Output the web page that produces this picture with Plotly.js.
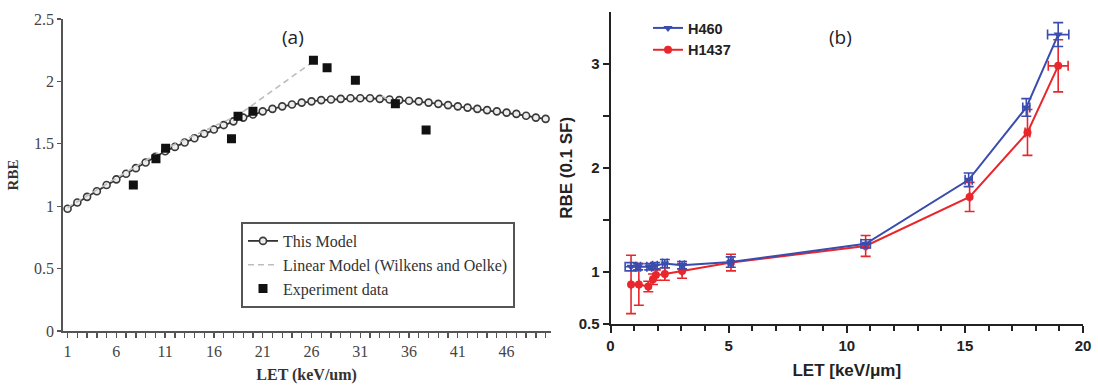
<!DOCTYPE html>
<html>
<head>
<meta charset="utf-8">
<script src="https://cdn.plot.ly/plotly-3.0.1.min.js"></script>
<style>html,body{margin:0;padding:0;background:#fff;}#chart{width:1098px;height:385px;}</style>
</head>
<body>
<div id="chart"></div>
<script>
// ---- Panel (a) data ----
const modelLET = [1,2,3,4,5,6,7,8,9,10,11,12,13,14,15,16,17,18,19,20,21,22,23,24,25,26,27,28,29,30,31,32,33,34,35,36,37,38,39,40,41,42,43,44,45,46,47,48,49,50];
const modelRBE = [0.98,1.03,1.075,1.12,1.17,1.215,1.26,1.305,1.35,1.395,1.44,1.475,1.51,1.545,1.58,1.615,1.65,1.68,1.71,1.735,1.76,1.78,1.80,1.815,1.83,1.84,1.85,1.855,1.86,1.865,1.865,1.865,1.86,1.855,1.85,1.845,1.84,1.83,1.82,1.81,1.80,1.79,1.78,1.77,1.76,1.75,1.74,1.725,1.71,1.70];
const linearLET = [1, 11, 18.5, 26.2, null, 33.2, 34.6];
const linearRBE = [0.99, 1.46, 1.73, 2.16, null, 1.885, 1.82];
const expLET = [7.74, 10.06, 11.05, 17.8, 18.47, 20.0, 26.2, 27.6, 30.5, 34.6, 37.75];
const expRBE = [1.17, 1.38, 1.465, 1.54, 1.72, 1.76, 2.17, 2.11, 2.01, 1.82, 1.61];

// ---- Panel (b) data ----
const h460LET = [0.87, 1.17, 1.64, 1.88, 2.30, 3.03, 5.09, 10.8, 15.16, 17.6, 18.95];
const h460RBE = [1.05, 1.05, 1.05, 1.06, 1.08, 1.065, 1.095, 1.27, 1.885, 2.58, 3.28];
const h460Err = [0.04, 0.03, 0.03, 0.03, 0.04, 0.035, 0.05, 0.04, 0.065, 0.085, 0.115];
const h460XErr = [0.25, 0.1, 0.1, 0.1, 0.1, 0.1, 0.1, 0.2, 0.15, 0.15, 0.45];
const h1437LET = [0.87, 1.2, 1.6, 1.8, 1.92, 2.3, 3.03, 5.1, 10.8, 15.2, 17.65, 18.95];
const h1437RBE = [0.88, 0.88, 0.86, 0.93, 0.97, 0.98, 1.01, 1.09, 1.25, 1.72, 2.34, 2.98];
const h1437Err = [0.28, 0.2, 0.05, 0.05, 0.05, 0.06, 0.07, 0.08, 0.1, 0.14, 0.22, 0.25];
const h1437XErr = [0, 0, 0, 0, 0, 0, 0, 0, 0, 0, 0.1, 0.42];

const yTicksB = [0.5, 1, 1.5, 2, 2.5, 3];
const yTextB = ['0.5', '1', '', '2', '', '3'];

const serif = 'Liberation Serif, Times New Roman, serif';
const sans = 'Liberation Sans, Arial, sans-serif';
const BLUE = '#3a4cae';
const RED = '#e8262c';

const traces = [
  {x: modelLET, y: modelRBE, name: 'This Model', type: 'scatter', mode: 'lines+markers',
   xaxis: 'x', yaxis: 'y', legend: 'legend',
   line: {color: '#333', width: 1.8},
   marker: {symbol: 'circle', size: 7, color: '#eeeeee', line: {color: '#3a3a3a', width: 1.6}}},
  {x: linearLET, y: linearRBE, name: 'Linear Model (Wilkens and Oelke)', type: 'scatter', mode: 'lines',
   xaxis: 'x', yaxis: 'y', legend: 'legend', connectgaps: false,
   line: {color: '#bdbdbd', width: 1.6, dash: '6px,4px'}},
  {x: expLET, y: expRBE, name: 'Experiment data', type: 'scatter', mode: 'markers',
   xaxis: 'x', yaxis: 'y', legend: 'legend',
   marker: {symbol: 'square', size: 9, color: '#111'}},
  {x: h1437LET, y: h1437RBE, name: 'H1437', type: 'scatter', mode: 'lines+markers',
   xaxis: 'x2', yaxis: 'y2', legend: 'legend2', legendrank: 2,
   line: {color: RED, width: 2},
   marker: {symbol: 'circle', size: 8, color: RED},
   error_y: {type: 'data', array: h1437Err, visible: true, color: RED, thickness: 1.6, width: 5},
   error_x: {type: 'data', array: h1437XErr, visible: true, color: RED, thickness: 1.6, width: 5}},
  {x: h460LET, y: h460RBE, name: 'H460', type: 'scatter', mode: 'lines+markers',
   xaxis: 'x2', yaxis: 'y2', legend: 'legend2', legendrank: 1,
   line: {color: BLUE, width: 2},
   marker: {symbol: 'triangle-down', size: 8, color: BLUE},
   error_y: {type: 'data', array: h460Err, visible: true, color: BLUE, thickness: 1.6, width: 5},
   error_x: {type: 'data', array: h460XErr, visible: true, color: BLUE, thickness: 1.6, width: 5}}
];

const layout = {
  width: 1098, height: 385,
  margin: {l: 0, r: 0, t: 0, b: 0},
  paper_bgcolor: '#fff', plot_bgcolor: 'rgba(0,0,0,0)',
  showlegend: true,
  xaxis: {
    domain: [62.7/1098, 550.5/1098], anchor: 'y',
    range: [0.5, 50.5], tickmode: 'linear', tick0: 1, dtick: 5,
    showgrid: false, zeroline: false, showline: true, linecolor: '#555', linewidth: 1.5,
    ticks: 'outside', ticklen: 5, tickwidth: 1.3, tickcolor: '#555',
    minor: {tick0: 1, dtick: 1, ticks: 'outside', ticklen: 5, tickwidth: 1.3, tickcolor: '#555'},
    tickfont: {family: serif, size: 16, color: '#444'},
    title: {text: '<b>LET (keV/um)</b>', font: {family: serif, size: 16, color: '#333'}, standoff: 10}
  },
  yaxis: {
    domain: [(385-331)/385, (385-19)/385], anchor: 'x',
    range: [0, 2.5], tickmode: 'linear', tick0: 0, dtick: 0.5,
    showgrid: false, zeroline: false, showline: true, linecolor: '#555', linewidth: 1.5,
    ticks: 'outside', ticklen: 4, tickwidth: 1.3, tickcolor: '#555',
    tickfont: {family: serif, size: 16, color: '#444'},
    title: {text: '<b>RBE</b>', font: {family: serif, size: 15, color: '#333'}, standoff: 12}
  },
  xaxis2: {
    domain: [610.5/1098, 1083/1098], anchor: 'y2',
    range: [0, 20], tickmode: 'linear', tick0: 0, dtick: 5,
    showgrid: false, zeroline: false, showline: true, linecolor: '#222', linewidth: 2,
    ticks: 'outside', ticklen: 7, tickwidth: 2, tickcolor: '#222',
    minor: {tick0: 0, dtick: 1, ticks: 'outside', ticklen: 5, tickwidth: 2, tickcolor: '#222'},
    tickfont: {family: sans, size: 15, color: '#222', weight: 'bold'},
    title: {text: '<b>LET [keV/μm]</b>', font: {family: sans, size: 17, color: '#222'}, standoff: 11}
  },
  yaxis2: {
    domain: [(385-324)/385, (385-11.7)/385], anchor: 'x2',
    range: [0.5, 3.5], tickmode: 'array', tickvals: yTicksB, ticktext: yTextB,
    showgrid: false, zeroline: false, showline: true, linecolor: '#222', linewidth: 2,
    ticks: 'outside', ticklen: 6, tickwidth: 2, tickcolor: '#222',
    tickfont: {family: sans, size: 15, color: '#222', weight: 'bold'},
    title: {text: '<b>RBE (0.1 SF)</b>', font: {family: sans, size: 17, color: '#222'}, standoff: 2}
  },
  legend: {
    x: 241/1098, y: (385-222)/385, xanchor: 'left', yanchor: 'top',
    bgcolor: '#fff', bordercolor: '#555', borderwidth: 2,
    font: {family: serif, size: 16, color: '#333'},
    tracegroupgap: 0, itemwidth: 30
  },
  legend2: {
    x: 648/1098, y: (385-12)/385, xanchor: 'left', yanchor: 'top',
    bgcolor: 'rgba(0,0,0,0)', borderwidth: 0,
    font: {family: sans, size: 14.5, color: '#222', weight: 'bold'},
    tracegroupgap: 0, itemwidth: 30
  },
  annotations: [
    {text: '(a)', x: 293/1098, y: (385-37)/385, xref: 'paper', yref: 'paper', showarrow: false,
     xanchor: 'center', yanchor: 'middle', font: {family: 'Open Sans, Noto Sans, sans-serif', size: 19, color: '#222'}},
    {text: '(b)', x: 840/1098, y: (385-37)/385, xref: 'paper', yref: 'paper', showarrow: false,
     xanchor: 'center', yanchor: 'middle', font: {family: 'Open Sans, Noto Sans, sans-serif', size: 19, color: '#222'}}
  ]
};

Plotly.newPlot('chart', traces, layout, {staticPlot: true, displayModeBar: false});
</script>
</body>
</html>
